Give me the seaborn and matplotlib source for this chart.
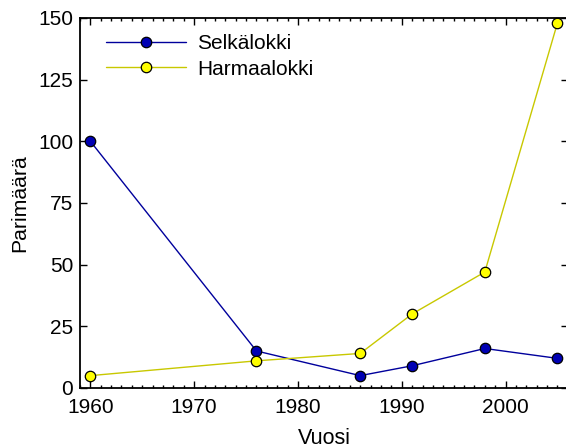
import matplotlib
matplotlib.use("Agg")
import matplotlib.pyplot as plt
from matplotlib.ticker import MultipleLocator
import pandas as pd
import seaborn as sns

years = [1960, 1976, 1986, 1991, 1998, 2005]
selkalokki = [100, 15, 5, 9, 16, 12]
harmaalokki = [5, 11, 14, 30, 47, 148]

df = pd.DataFrame({"Vuosi": years, "Selkälokki": selkalokki, "Harmaalokki": harmaalokki})
long_df = df.melt(id_vars="Vuosi", var_name="laji", value_name="Parimäärä")

sns.set_style("ticks")
plt.rcParams["font.family"] = ["Liberation Sans", "DejaVu Sans"]
plt.rcParams["text.color"] = "black"
plt.rcParams["axes.labelcolor"] = "black"
plt.rcParams["xtick.color"] = "black"
plt.rcParams["ytick.color"] = "black"

fig = plt.figure(figsize=(5.66, 4.48), dpi=100)
ax = fig.add_axes([0.1413, 0.134, 0.862, 0.826])

line_colors = {"Selkälokki": "#00009C", "Harmaalokki": "#C8C800"}
face_colors = {"Selkälokki": "#0000B4", "Harmaalokki": "#FFFF00"}

for name in ["Selkälokki", "Harmaalokki"]:
    sub = long_df[long_df["laji"] == name]
    sns.lineplot(data=sub, x="Vuosi", y="Parimäärä", ax=ax, color=line_colors[name],
                 marker="o", markersize=7.5, markerfacecolor=face_colors[name],
                 markeredgecolor="black", markeredgewidth=0.9, linewidth=1.0,
                 label=name, clip_on=False)

ax.set_xlim(1959, 2006)
ax.set_ylim(0, 150)
ax.xaxis.set_major_locator(MultipleLocator(10))
ax.xaxis.set_minor_locator(MultipleLocator(1))
ax.yaxis.set_major_locator(MultipleLocator(25))
ax.tick_params(which="both", direction="in", top=True, right=True, labelsize=15,
               width=1.0, color="black", labelcolor="black")
ax.tick_params(which="major", length=5)
ax.tick_params(which="minor", length=2.5)
ax.tick_params(axis="x", pad=7)
ax.tick_params(axis="y", pad=5)
for s in ax.spines.values():
    s.set_linewidth(1.3)
    s.set_color("black")

ax.set_xlabel("Vuosi", fontsize=15.5, labelpad=8, color="black")
ax.set_ylabel("Parimäärä", fontsize=15.3, labelpad=6, color="black")

leg = ax.legend(loc="upper left", bbox_to_anchor=(0.014, 1.006), frameon=False, fontsize=15,
                handlelength=3.85, handletextpad=0.53, labelspacing=0.3)
for t in leg.get_texts():
    t.set_color("black")

fig.savefig("out.png", dpi=100)
